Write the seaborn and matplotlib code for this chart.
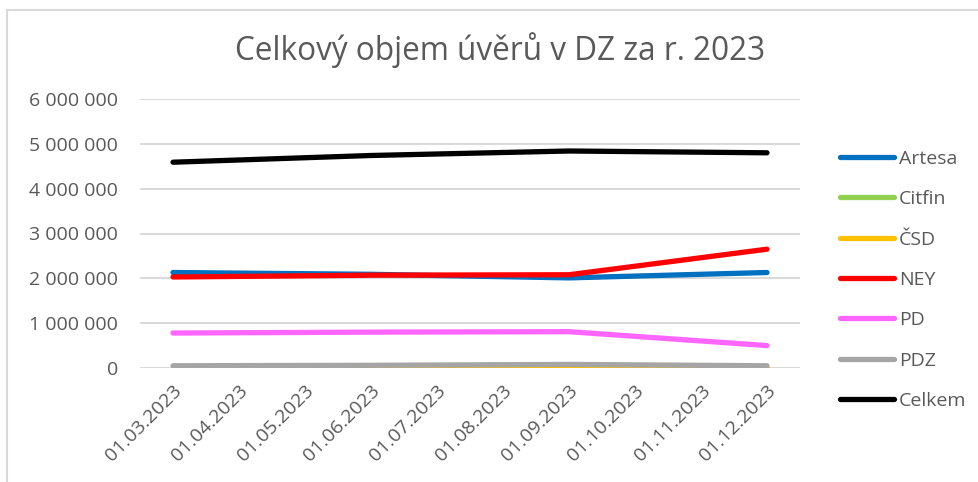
import matplotlib
matplotlib.use("Agg")
import matplotlib.pyplot as plt
from matplotlib.lines import Line2D
from matplotlib.ticker import FuncFormatter
import pandas as pd
import seaborn as sns

# Month categories on the x axis
months = ["01.03.2023", "01.04.2023", "01.05.2023", "01.06.2023", "01.07.2023",
          "01.08.2023", "01.09.2023", "01.10.2023", "01.11.2023", "01.12.2023"]

# Quarterly data points
dates = ["01.03.2023", "01.06.2023", "01.09.2023", "01.12.2023"]
artesa = [2130000, 2090000, 2010000, 2130000]
citfin = [8000, 8000, 8000, 8000]
csd = [3000, 3000, 3000, 3000]
ney = [2030000, 2070000, 2080000, 2650000]
pd_ = [780000, 800000, 810000, 500000]
pdz = [50000, 60000, 80000, 50000]
celkem = [4590000, 4740000, 4840000, 4800000]

series = ["Artesa", "Citfin", "ČSD", "NEY", "PD", "PDZ", "Celkem"]
values = [artesa, citfin, csd, ney, pd_, pdz, celkem]
colors = ["#0070C0", "#92D050", "#FFC000", "#FF0000", "#FF66FF", "#A5A5A5", "#000000"]

rows = []
for name, vals in zip(series, values):
    for d, v in zip(dates, vals):
        rows.append({"pos": months.index(d), "value": v, "series": name})
df = pd.DataFrame(rows)

sns.set_style("white")
plt.rcParams["font.family"] = ["Open Sans", "DejaVu Sans"]

fig = plt.figure(figsize=(9.79, 4.82), dpi=100)
ax = fig.add_axes([140 / 979, 1 - 368 / 482, 660 / 979, 269 / 482])

sns.lineplot(data=df, x="pos", y="value", hue="series", hue_order=series,
             palette=dict(zip(series, colors)), linewidth=3.8, ax=ax,
             legend=False)
for ln in ax.get_lines():
    ln.set_solid_capstyle("round")

ax.set_xlim(-0.5, len(months) - 0.5)
ax.set_ylim(0, 6000000)
ax.set_yticks(range(0, 6000001, 1000000))
ax.yaxis.set_major_formatter(FuncFormatter(lambda v, p: f"{int(v):,}".replace(",", " ")))
ax.set_xticks(range(len(months)))
ax.set_xticklabels(months, rotation=45, ha="right", rotation_mode="anchor")
ax.grid(axis="y", color="#d9d9d9", linewidth=1.4)
ax.grid(axis="x", visible=False)
for s in ax.spines.values():
    s.set_visible(False)
ax.tick_params(axis="both", length=0, colors="#595959", labelsize=14)
ax.tick_params(axis="y", pad=16)
ax.tick_params(axis="x", pad=10)
ax.set_xlabel("")
ax.set_ylabel("")

fig.text(500 / 979, 1 - 50 / 482, "Celkový objem úvěrů v DZ za r. 2023",
         ha="center", va="center", fontsize=22.7, color="#595959")

handles = [Line2D([0], [0], color=c, linewidth=3.8, solid_capstyle="round") for c in colors]
fig.legend(handles, series, loc="upper left", bbox_to_anchor=(832 / 979, 1 - 142 / 482),
           frameon=False, fontsize=14, labelcolor="#595959", handlelength=2.8,
           handletextpad=0.25, labelspacing=1.15, borderaxespad=0)

# chart border
fig.add_artist(Line2D([7 / 979, 1], [1 - 10 / 482, 1 - 10 / 482], color="#d9d9d9", linewidth=1.5))
fig.add_artist(Line2D([7 / 979, 7 / 979], [0, 1 - 10 / 482], color="#d9d9d9", linewidth=1.5))

fig.savefig("out.png", dpi=100)
